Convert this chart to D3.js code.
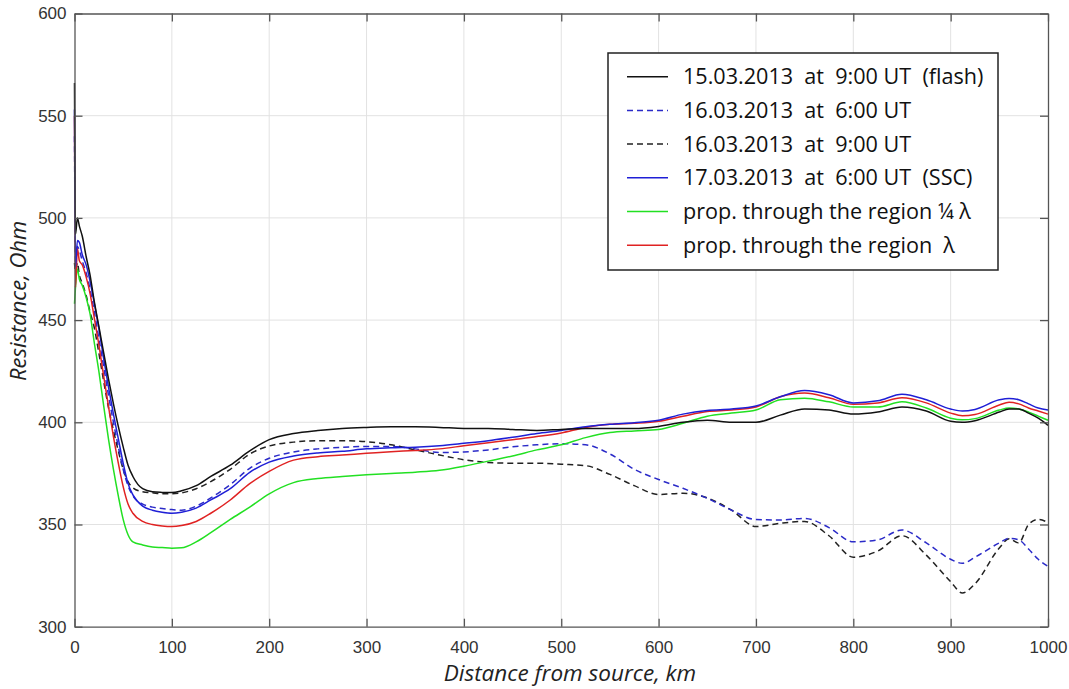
<!DOCTYPE html>
<html><head><meta charset="utf-8">
<script src="https://cdn.jsdelivr.net/npm/d3@7"></script>
<style>
body{margin:0;background:#fff;}
svg text{white-space:pre;}
</style></head>
<body><svg id="chart" width="1069" height="689"></svg>
<script>
const distances = [0,1,3,5,8,12,16,20,25,30,35,40,45,50,55,60,70,80,90,100,110,125,140,160,180,200,225,250,275,300,325,350,375,400,425,450,475,500,525,550,575,600,625,650,675,700,725,750,775,800,825,850,875,900,912,925,950,960,970,980,990,1000];

const flash15 = [566,492,500,496,491,481,472,460,447,434,421,409,398,388,379,373.5,367.5,366,365.7,365.6,366.5,369,373.5,379,386,391.5,394.5,396,397,397.5,397.8,397.8,397.5,397,397,396.5,396,396.5,397,397,397,398,400,401,400,400,403.5,406.5,406,404,405,407.5,405.5,400.5,400,400.8,405,406.5,406.5,404.5,402,398.5];
const d16at6 = [540,478,486,484,479,473,465,455,441,427,413,400,388,377,369,364,360,358.5,357.8,357.3,357,359,363,369.5,377.5,382.4,385.5,387,387.8,388.2,388.2,387,385.2,385.5,386.5,388,389,389.5,389,384.5,377,372,367.7,362.8,357,352.4,352.2,353,348.5,341.5,342.5,347.3,341,333,331,334,341,343.2,342.5,338,333,329.5];
const d16at9 = [478,474,478,472,468,462,454,447,434,420,407,396,386,377,371,368,366,365.5,365,365,365.5,367.5,371,377,384.5,388.4,390.3,391,391,390.5,389,386.5,384,381.7,380.3,380,380,379.5,378.8,374.5,369,364.7,365.3,363,357,349,350.6,351.5,344.5,334,337,344.5,335,322,316.5,321,338.5,343,341,350,352.5,351];
const ssc17 = [553,476,489,488,482,477,469,459,446,431,417,404,392,380,370,364.5,359,357,356,355.5,356,358,362,367.5,375.5,380.5,383.5,385,385.8,387,387.5,387.8,388.5,389.7,391,392.7,394.5,396,397.8,399,399.8,401,404,405.8,406.5,408,412.5,415.5,413.5,409.5,410.5,413.7,411,406.5,405.5,406.3,411,411.7,411,409,407,406];
const quarterL = [458,466,475,470,467,461,453,440,425,408,391.5,377,364,352.5,345,341.5,340,339,338.7,338.4,338.6,341.5,346,352.5,358.5,365,370.5,372.5,373.5,374.3,375,375.6,376.5,378.5,381,383.5,386.5,389,392.5,395,395.8,396.5,399.5,403,404.5,406,411,411.8,410,407.5,407.5,410,407,402,401.2,401.8,406,407,406.5,405,403,401];
const fullL = [550,466,485,479,477,471,463,452,438,422.5,407.5,393,380,368.5,360,355.5,351.5,350,349.3,349,349.5,351.5,355.5,362,370,376,381.5,383.2,384,384.8,385.6,386.2,387,388.5,390,391.5,393,394.8,397.5,399,399.5,400.5,403,405.3,406,407.5,412.5,414.3,412,408.8,409.5,412,409.5,404.5,403.2,403.8,408.5,409.8,409,407,405.5,404];

const seriesNames = ["15.03.2013  at  9:00 UT  (flash)","16.03.2013  at  6:00 UT","16.03.2013  at  9:00 UT","17.03.2013  at  6:00 UT  (SSC)","prop. through the region ¼ λ","prop. through the region  λ"];
const seriesValues = [flash15, d16at6, d16at9, ssc17, quarterL, fullL];
const seriesColors = ["#111111","#2b2bc8","#222222","#1f1fd6","#22e022","#e02222"];
const seriesDash = [null,"6,4","6,4",null,null,null];
const drawOrder = [2,1,4,5,3,0];

const xTicks = [0,100,200,300,400,500,600,700,800,900,1000];
const yTicks = [300,350,400,450,500,550,600];

const svg = d3.select("#chart");
const L=74.5, R=1048, T=13.5, B=626.7;
const x = d3.scaleLinear().domain([0,1000]).range([L,R]);
const y = d3.scaleLinear().domain([300,600]).range([B,T]);

// grid
svg.append("g").selectAll("line").data(xTicks.slice(1,-1)).join("line")
  .attr("x1",d=>x(d)).attr("x2",d=>x(d)).attr("y1",T).attr("y2",B)
  .attr("stroke","#e2e2e2").attr("stroke-width",1);
svg.append("g").selectAll("line").data(yTicks.slice(1,-1)).join("line")
  .attr("x1",L).attr("x2",R).attr("y1",d=>y(d)).attr("y2",d=>y(d))
  .attr("stroke","#e2e2e2").attr("stroke-width",1);

// lines
const line = d3.line().x((d,i)=>x(distances[i])).y(d=>y(d)).curve(d3.curveMonotoneX);
drawOrder.forEach(k=>{
  svg.append("path").datum(seriesValues[k]).attr("d",line)
    .attr("fill","none").attr("stroke",seriesColors[k]).attr("stroke-width",1.5)
    .attr("stroke-dasharray",seriesDash[k]);
});

// axes (ticks inside, MATLAB style)
const axColor="#555";
const fmt = d=>String(d);
const ax = svg.append("g").attr("transform",`translate(0,${B})`)
  .call(d3.axisBottom(x).tickValues(xTicks).tickFormat(fmt).tickSizeInner(-8).tickSizeOuter(0).tickPadding(14));
const axT = svg.append("g").attr("transform",`translate(0,${T})`)
  .call(d3.axisTop(x).tickValues(xTicks).tickSizeInner(-8).tickSizeOuter(0).tickFormat(""));
const ay = svg.append("g").attr("transform",`translate(${L},0)`)
  .call(d3.axisLeft(y).tickValues(yTicks).tickFormat(fmt).tickSizeInner(-8).tickSizeOuter(0).tickPadding(8));
const ayR = svg.append("g").attr("transform",`translate(${R},0)`)
  .call(d3.axisRight(y).tickValues(yTicks).tickSizeInner(-8).tickSizeOuter(0).tickFormat(""));
[ax,axT,ay,ayR].forEach(g=>{
  g.select(".domain").attr("stroke",axColor).attr("stroke-width",1.3);
  g.selectAll(".tick line").attr("stroke",axColor).attr("stroke-width",1.3);
  g.selectAll(".tick text").attr("fill","#333").attr("font-family","Liberation Sans, Arial, sans-serif").attr("font-size",17);
});

// axis labels
svg.append("text").attr("x",570).attr("y",681).attr("text-anchor","middle")
  .attr("font-family","Open Sans, sans-serif").attr("font-style","italic").attr("font-size",22.5).attr("fill","#222")
  .text("Distance from source, km");
svg.append("text").attr("transform","translate(26,301) rotate(-90)").attr("text-anchor","middle")
  .attr("font-family","Open Sans, sans-serif").attr("font-style","italic").attr("font-size",22).attr("fill","#222")
  .text("Resistance, Ohm");

// legend
const lg = svg.append("g");
lg.append("rect").attr("x",608).attr("y",53).attr("width",390).attr("height",217)
  .attr("fill","#fff").attr("stroke","#222").attr("stroke-width",1.5);
seriesNames.forEach((name,i)=>{
  const yy = 76.7 + i*33.7;
  lg.append("line").attr("x1",627).attr("x2",668).attr("y1",yy).attr("y2",yy)
    .attr("stroke",seriesColors[i]).attr("stroke-width",1.5).attr("stroke-dasharray",seriesDash[i]);
  lg.append("text").attr("x",683).attr("y",yy).attr("dy","0.35em")
    .attr("font-family","Open Sans, sans-serif").attr("font-size",21.6).attr("fill","#111")
    .text(name);
});
</script></body></html>
